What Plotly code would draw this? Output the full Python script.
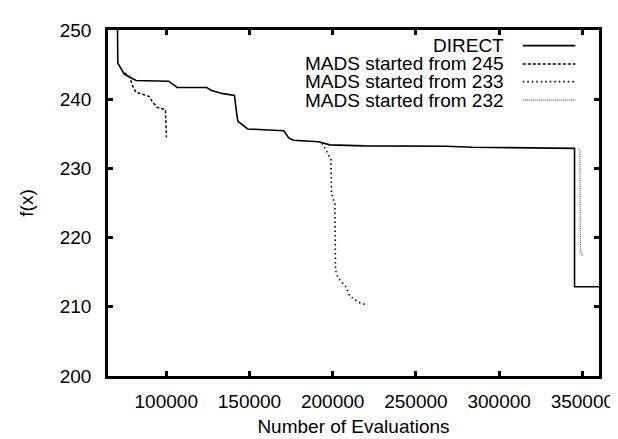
import plotly.graph_objects as go

# ---- data ----
direct_x = [70500, 70900, 74900, 81800, 101500, 104500, 106500, 124200, 127200, 134100,
            141000, 142000, 143000, 148900, 170600, 173600, 176500, 191400, 198300,
            219000, 268200, 284200, 345300, 345300, 360000]
direct_y = [255, 245.2, 243.6, 242.7, 242.6, 242.1, 241.7, 241.7, 241.25, 240.8,
            240.55, 238.5, 236.85, 235.7, 235.45, 234.4, 234.07, 233.85, 233.4,
            233.25, 233.2, 233.05, 232.9, 212.9, 212.9]

mads245_x = [74900, 77900, 79800, 81800, 89700, 91700, 94600, 99500, 100100]
mads245_y = [243.8, 243.3, 241.9, 241.0, 240.4, 239.6, 238.8, 238.5, 234.5]

mads233_x = [193400, 194300, 198900, 199300, 201300, 201700, 203200, 208200, 210100, 215100, 221000]
mads233_y = [233.6, 233.4, 231.3, 226.4, 224.8, 215.3, 214.2, 212.8, 211.6, 210.7, 210.2]

mads232_x = [347400, 348500, 348900, 350300]
mads232_y = [232.9, 232.6, 218.0, 217.4]

series_names = ["DIRECT", "MADS started from 245", "MADS started from 233", "MADS started from 232"]
x_ticks = [100000, 150000, 200000, 250000, 300000, 350000]
y_ticks = [200, 210, 220, 230, 240, 250]

FONT = "Liberation Sans, Arial, Helvetica, sans-serif"
styles = [
    dict(color="black", width=1.6, dash="solid"),
    dict(color="black", width=1.4, dash="3px,2px"),
    dict(color="black", width=1.6, dash="1.5px,3px"),
    dict(color="#555555", width=1.2, dash="1px,1px"),
]

fig = go.Figure()
for xs, ys, name, st in zip([direct_x, mads245_x, mads233_x, mads232_x],
                            [direct_y, mads245_y, mads233_y, mads232_y],
                            series_names, styles):
    fig.add_trace(go.Scatter(x=xs, y=ys, mode="lines", name=name, line=st,
                             showlegend=False, cliponaxis=True))

# manual gnuplot-style legend (text left, sample right)
leg_y = [0.9547, 0.9019, 0.8508, 0.7972]
for name, st, yy in zip(series_names, styles, leg_y):
    fig.add_annotation(x=0.8112, y=yy, xref="paper", yref="paper", text=name,
                       showarrow=False, xanchor="right", yanchor="middle",
                       font=dict(family=FONT, size=19, color="black"))
    fig.add_shape(type="line", xref="paper", yref="paper", x0=0.8448, x1=0.9518,
                  y0=yy, y1=yy, line=st)

axis_common = dict(showgrid=False, zeroline=False, showline=True, linecolor="black",
                   linewidth=2.5, mirror="allticks", ticks="inside", ticklen=5,
                   tickwidth=2.5, tickcolor="black",
                   tickfont=dict(family=FONT, size=19, color="black"))

fig.update_xaxes(range=[65000, 360000], tickvals=x_ticks,
                 ticktext=[str(v) for v in x_ticks],
                 title=dict(text="Number of Evaluations", standoff=10,
                            font=dict(family=FONT, size=19, color="black")),
                 ticklabelstandoff=6, **axis_common)
fig.update_yaxes(range=[200, 250], tickvals=y_ticks,
                 ticktext=[str(v) for v in y_ticks],
                 title=dict(text="f(x)", standoff=22,
                            font=dict(family=FONT, size=19, color="black")),
                 ticklabelstandoff=10, **axis_common)

fig.update_layout(width=618, height=439, margin=dict(l=100, r=20, t=17, b=62),
                  plot_bgcolor="white", paper_bgcolor="white", showlegend=False)

fig.write_html("out.html")
